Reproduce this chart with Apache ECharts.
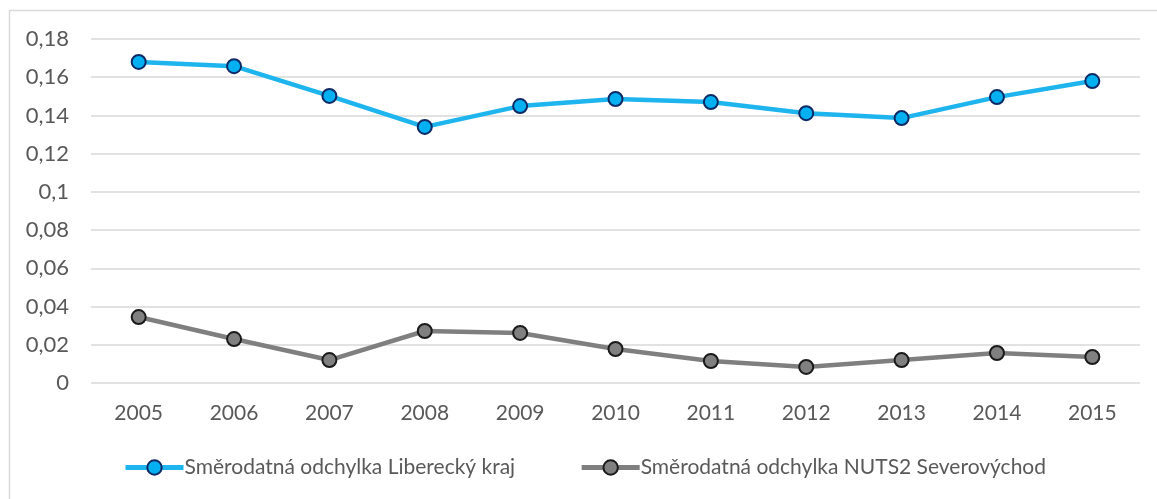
<!DOCTYPE html>
<html>
<head>
<meta charset="utf-8">
<script src="https://cdn.jsdelivr.net/npm/echarts@6/dist/echarts.min.js"></script>
<style>
html,body{margin:0;padding:0;background:#fff;}
#mychart{width:1157px;height:499px;}
</style>
</head>
<body>
<div id="mychart"></div>
<script>
// data
const years = ['2005','2006','2007','2008','2009','2010','2011','2012','2013','2014','2015'];
const liberecky = [0.168,0.1658,0.1502,0.134,0.1449,0.1486,0.147,0.1412,0.1386,0.1496,0.158];
const nuts2 = [0.0345,0.023,0.012,0.0272,0.0262,0.0178,0.0115,0.0084,0.012,0.0157,0.0136];
const names = ['Směrodatná odchylka Liberecký kraj','Směrodatná odchylka NUTS2 Severovýchod'];

const txt = '#595959';
const font = 'Lato';

let myChart = echarts.init(document.getElementById('mychart'));
let option = {
    animation:false,
    textStyle:{fontFamily:font},
    graphic:[{
        type:'rect',
        shape:{x:9.5,y:10.5,width:1160,height:500},
        style:{fill:'none',stroke:'#d9d9d9',lineWidth:1.5},
        silent:true
    }],
    grid:{left:91,right:17,top:39,bottom:116},
    legend:{
        bottom:16,
        left:118,
        itemGap:64,
        itemWidth:58,
        itemHeight:18,
        lineStyle:{width:5},
        textStyle:{color:txt,fontSize:21,fontFamily:font,padding:[0,0,0,-4]},
        data:names
    },
    xAxis:{
        type:'category',
        boundaryGap:true,
        data:years,
        axisLine:{show:false},
        axisTick:{show:false},
        axisLabel:{color:txt,fontSize:21,margin:20,fontFamily:font}
    },
    yAxis:{
        type:'value',
        min:0,max:0.18,interval:0.02,
        axisLabel:{
            color:txt,fontSize:22,margin:22,fontFamily:font,
            formatter:function(v){return v===0?'0':String(+v.toFixed(2)).replace('.',',');}
        },
        splitLine:{lineStyle:{color:'#d9d9d9',width:1.5}},
        axisLine:{show:false},
        axisTick:{show:false}
    },
    series:[
        {
            name:names[0],type:'line',data:liberecky,
            symbol:'circle',symbolSize:14,
            lineStyle:{color:'#1eb4ee',width:4.5},
            itemStyle:{color:'#00b0f0',borderColor:'#0e2a66',borderWidth:2}
        },
        {
            name:names[1],type:'line',data:nuts2,
            symbol:'circle',symbolSize:14,
            lineStyle:{color:'#7f7f7f',width:4.5},
            itemStyle:{color:'#808080',borderColor:'#1a1a1a',borderWidth:2}
        }
    ]
};
myChart.setOption(option);
</script>
</body>
</html>
